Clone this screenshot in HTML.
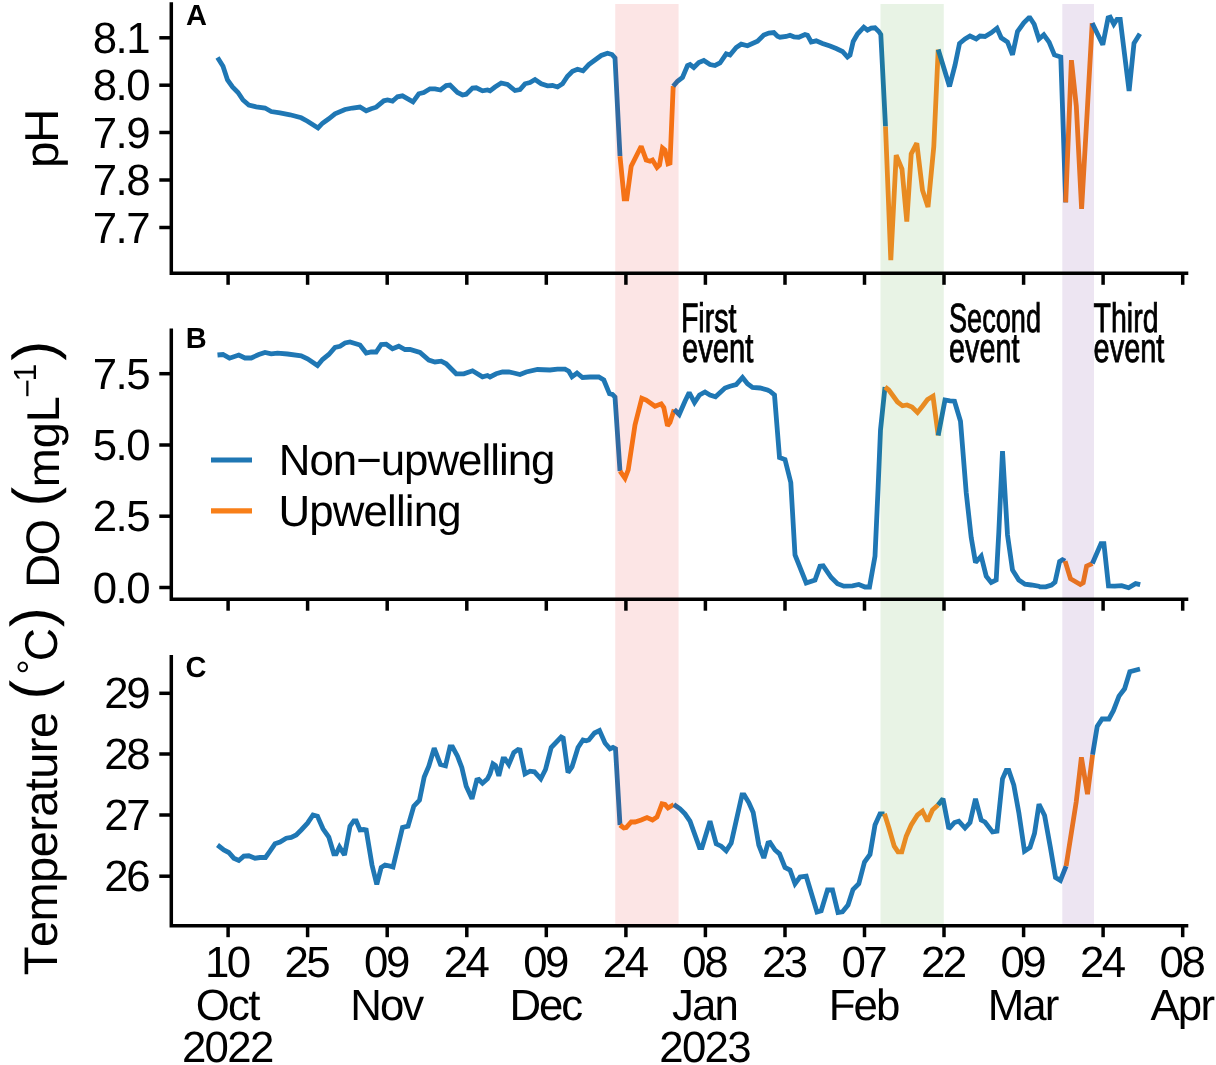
<!DOCTYPE html>
<html><head><meta charset="utf-8"><title>Figure</title><style>html,body{margin:0;padding:0;background:#fff}svg{display:block;will-change:transform}text{text-rendering:geometricPrecision}</style></head><body>
<svg width="1216" height="1065" viewBox="0 0 1216 1065" font-family='"Liberation Sans", Arial, Helvetica, sans-serif' fill="#000" style="font-kerning:none">
<rect width="1216" height="1065" fill="#fff"/>
<path d="M217.5,57.5 L223.0,66.2 L227.5,80.0 L232.5,87.0 L238.0,92.5 L243.0,100.0 L248.8,105.0 L256.2,106.8 L265.0,108.0 L271.2,111.5 L280.0,112.8 L290.0,114.8 L301.2,117.8 L307.5,121.2 L318.0,128.0 L322.5,123.2 L328.8,118.8 L335.0,113.8 L345.0,109.5 L352.5,108.0 L360.0,107.0 L366.2,110.8 L371.2,108.8 L376.2,107.2 L383.8,100.8 L387.5,100.0 L392.5,101.2 L397.5,96.8 L402.5,95.8 L413.0,101.8 L418.8,93.8 L423.8,92.5 L430.0,88.8 L435.0,88.8 L440.5,90.0 L446.2,85.5 L450.0,85.0 L457.5,92.5 L462.5,95.0 L466.2,94.2 L472.5,88.0 L476.2,87.8 L482.5,90.8 L487.5,90.0 L490.0,90.8 L495.0,87.0 L501.2,83.0 L507.5,84.5 L515.0,90.5 L520.0,89.5 L525.0,83.8 L530.0,82.5 L535.0,79.5 L541.2,83.8 L547.5,85.8 L552.5,85.5 L557.5,87.0 L562.5,83.8 L567.5,76.2 L572.5,71.2 L577.5,69.2 L583.0,70.8 L588.8,64.5 L595.0,60.0 L601.2,55.5 L607.5,53.2 L612.0,54.5 L615.0,58.0 L620.0,156.2" fill="none" stroke="#1f77b4" stroke-width="4.8" stroke-linejoin="miter" stroke-miterlimit="2.2" stroke-linecap="butt"/>
<path d="M620.0,156.2 L624.2,198.8 L626.8,198.8 L631.2,166.2 L641.2,146.2 L646.2,160.0 L650.0,161.2 L652.5,160.0 L657.0,167.5 L659.5,165.0 L662.5,148.0 L665.0,150.0 L668.0,163.8 L670.0,163.0 L673.2,86.2" fill="none" stroke="#f87f18" stroke-width="4.8" stroke-linejoin="miter" stroke-miterlimit="2.2" stroke-linecap="butt"/>
<path d="M673.2,86.2 L677.5,81.2 L682.5,77.5 L687.5,65.5 L690.0,64.5 L693.8,67.5 L698.8,62.5 L703.8,60.5 L710.0,64.5 L715.0,65.5 L720.0,63.0 L726.2,53.8 L730.0,55.0 L736.2,47.5 L741.2,44.2 L747.5,45.8 L757.5,41.2 L763.8,35.0 L768.8,33.0 L773.8,32.5 L777.5,36.2 L780.0,37.2 L786.2,36.5 L790.0,35.2 L793.8,36.8 L798.8,37.2 L805.0,34.5 L807.5,35.2 L811.2,42.0 L816.2,40.8 L822.5,43.5 L830.0,46.0 L836.2,48.5 L842.5,51.5 L847.5,57.0 L850.0,55.2 L853.2,41.5 L857.5,34.0 L863.8,27.2 L867.5,30.2 L871.2,28.2 L875.0,27.8 L878.8,31.5 L880.8,34.5 L885.5,126.5" fill="none" stroke="#1f77b4" stroke-width="4.8" stroke-linejoin="miter" stroke-miterlimit="2.2" stroke-linecap="butt"/>
<path d="M885.5,126.5 L890.8,260.2 L896.2,155.2 L902.0,169.0 L906.8,221.5 L911.2,154.0 L916.8,143.2 L922.5,190.2 L928.0,207.0 L933.8,146.5 L938.2,49.5" fill="none" stroke="#ff8c26" stroke-width="4.8" stroke-linejoin="miter" stroke-miterlimit="2.2" stroke-linecap="butt"/>
<path d="M938.2,49.5 L943.8,67.8 L949.5,86.5 L955.0,65.2 L959.5,43.5 L965.0,39.0 L970.0,36.0 L976.2,39.0 L980.0,36.0 L985.0,36.5 L991.2,32.8 L997.0,28.2 L1001.2,37.8 L1007.5,42.0 L1012.5,54.8 L1017.5,31.5 L1023.8,22.8 L1028.8,17.8 L1030.0,17.8 L1034.2,24.2 L1038.9,39.0 L1043.8,34.8 L1049.1,42.2 L1054.4,54.9 L1060.8,57.1 L1065.7,202.4" fill="none" stroke="#1f77b4" stroke-width="4.8" stroke-linejoin="miter" stroke-miterlimit="2.2" stroke-linecap="butt"/>
<path d="M1065.7,202.4 L1071.4,60.2 L1076.3,105.9 L1081.6,208.8 L1087.3,110.1 L1092.2,23.1" fill="none" stroke="#f87f18" stroke-width="4.8" stroke-linejoin="miter" stroke-miterlimit="2.2" stroke-linecap="butt"/>
<path d="M1092.2,23.1 L1097.9,34.8 L1102.8,44.7 L1108.1,17.8 L1110.2,17.2 L1113.8,24.2 L1117.0,19.3 L1120.2,19.3 L1129.1,91.0 L1134.0,43.3 L1139.9,33.7" fill="none" stroke="#1f77b4" stroke-width="4.8" stroke-linejoin="miter" stroke-miterlimit="2.2" stroke-linecap="butt"/>
<path d="M217.5,355.0 L223.0,354.5 L229.5,358.2 L238.8,355.0 L245.0,358.0 L251.2,358.0 L258.8,354.5 L265.0,352.5 L271.2,353.8 L277.5,353.2 L287.5,354.0 L301.2,355.8 L307.5,358.8 L317.5,365.5 L322.5,359.5 L328.8,354.5 L335.0,347.5 L340.0,346.2 L345.0,343.0 L350.0,342.0 L360.0,345.0 L366.2,353.0 L371.2,351.8 L376.2,352.0 L381.2,344.5 L386.2,344.2 L392.5,348.8 L398.8,346.2 L405.0,349.5 L410.0,349.5 L420.0,352.5 L428.8,360.0 L435.0,362.0 L441.2,361.2 L446.2,363.8 L456.2,373.8 L463.8,373.8 L472.5,370.8 L482.5,376.8 L487.5,375.5 L490.0,377.0 L496.2,373.8 L502.5,372.0 L508.8,372.0 L513.8,373.0 L520.0,374.5 L526.2,372.0 L537.5,369.5 L550.0,370.0 L557.5,369.2 L565.0,369.2 L568.8,371.2 L572.0,376.8 L577.0,373.0 L582.5,377.5 L590.0,377.0 L598.8,377.0 L603.8,380.0 L609.5,393.8 L612.5,394.5 L615.0,397.0 L620.0,471.2" fill="none" stroke="#1f77b4" stroke-width="4.8" stroke-linejoin="miter" stroke-miterlimit="2.2" stroke-linecap="butt"/>
<path d="M620.0,471.2 L625.0,478.2 L628.2,470.0 L635.0,425.0 L641.8,398.2 L646.2,400.0 L655.0,406.2 L661.2,403.8 L663.8,407.5 L667.5,425.8 L670.0,422.5 L674.2,409.5" fill="none" stroke="#f87f18" stroke-width="4.8" stroke-linejoin="miter" stroke-miterlimit="2.2" stroke-linecap="butt"/>
<path d="M674.2,409.5 L679.2,414.5 L685.0,401.2 L689.2,392.5 L694.5,402.5 L699.5,395.0 L705.0,392.0 L710.0,395.0 L715.5,396.8 L725.0,388.0 L730.0,386.2 L736.2,384.5 L742.5,377.5 L747.5,383.8 L752.5,387.5 L760.0,388.0 L767.5,390.0 L770.0,391.2 L774.5,395.0 L779.5,457.5 L785.0,459.5 L790.8,482.5 L795.0,555.0 L806.2,583.0 L815.0,580.0 L820.0,566.2 L823.2,565.8 L831.2,577.5 L837.5,583.8 L843.8,586.2 L852.5,585.8 L858.8,584.5 L865.0,587.0 L869.5,587.0 L875.0,556.2 L878.0,490.0 L880.5,430.0 L885.0,387.0" fill="none" stroke="#1f77b4" stroke-width="4.8" stroke-linejoin="miter" stroke-miterlimit="2.2" stroke-linecap="butt"/>
<path d="M885.0,387.0 L888.8,390.0 L897.5,402.0 L902.5,405.8 L907.0,405.0 L912.0,407.0 L917.5,412.5 L922.5,406.2 L927.5,399.5 L933.0,396.2 L938.2,435.5" fill="none" stroke="#ff8c26" stroke-width="4.8" stroke-linejoin="miter" stroke-miterlimit="2.2" stroke-linecap="butt"/>
<path d="M938.2,435.5 L945.0,400.0 L950.0,400.8 L954.5,401.2 L960.5,421.2 L966.2,492.5 L971.2,537.5 L975.5,562.5 L981.2,556.2 L986.2,576.2 L991.2,582.5 L996.2,580.0 L998.8,532.5 L1002.5,451.2 L1007.5,535.0 L1012.5,570.0 L1018.8,580.0 L1025.0,584.2 L1031.2,585.0 L1038.8,586.2 L1040.0,586.8 L1045.8,586.8 L1051.5,585.0 L1055.0,582.2 L1059.6,561.4 L1062.4,559.7 L1065.1,561.1" fill="none" stroke="#1f77b4" stroke-width="4.8" stroke-linejoin="miter" stroke-miterlimit="2.2" stroke-linecap="butt"/>
<path d="M1065.1,561.1 L1070.5,578.7 L1080.3,584.5 L1083.2,582.7 L1086.6,566.1 L1092.4,563.5" fill="none" stroke="#f87f18" stroke-width="4.8" stroke-linejoin="miter" stroke-miterlimit="2.2" stroke-linecap="butt"/>
<path d="M1092.4,563.5 L1101.0,543.6 L1103.9,543.6 L1108.5,585.9 L1114.8,586.2 L1121.7,585.6 L1128.6,587.7 L1135.6,583.6 L1140.2,584.7" fill="none" stroke="#1f77b4" stroke-width="4.8" stroke-linejoin="miter" stroke-miterlimit="2.2" stroke-linecap="butt"/>
<path d="M217.5,845.0 L223.8,850.0 L228.8,852.5 L233.8,858.2 L238.8,860.5 L243.8,856.2 L248.8,855.8 L255.0,858.2 L260.0,857.5 L265.5,857.5 L270.0,851.2 L275.0,843.8 L280.0,842.0 L286.2,838.2 L291.2,837.5 L296.2,835.0 L301.2,830.0 L307.5,823.2 L313.0,815.0 L317.5,816.2 L323.0,828.8 L328.8,837.0 L333.8,853.8 L336.2,853.8 L339.5,847.0 L344.5,855.0 L350.0,826.2 L353.8,820.8 L356.2,820.8 L360.0,830.0 L363.8,829.5 L366.2,830.0 L372.0,865.0 L376.8,884.5 L381.2,867.5 L385.0,865.0 L390.0,866.2 L393.0,867.0 L402.5,827.5 L408.0,826.2 L413.8,806.2 L419.5,800.0 L424.2,777.0 L428.8,766.2 L434.2,748.2 L440.5,764.5 L445.5,765.8 L450.0,747.0 L452.5,747.0 L457.5,756.2 L461.8,767.5 L466.2,786.2 L472.0,798.8 L476.8,780.0 L478.8,779.5 L482.5,783.2 L487.5,778.8 L490.0,773.8 L493.0,763.8 L495.5,765.5 L498.8,775.8 L503.0,758.8 L505.0,758.8 L508.8,764.5 L513.8,752.5 L518.0,749.5 L520.0,750.0 L525.0,773.8 L530.0,771.2 L534.5,771.8 L540.8,778.8 L545.5,769.5 L551.2,747.5 L561.2,737.0 L563.2,738.0 L568.0,772.5 L572.0,767.0 L578.0,747.5 L583.0,740.0 L586.2,740.8 L588.8,740.0 L594.5,733.0 L599.5,730.5 L605.0,743.0 L610.0,748.8 L613.0,747.5 L615.5,748.8 L620.0,825.0" fill="none" stroke="#1f77b4" stroke-width="4.8" stroke-linejoin="miter" stroke-miterlimit="2.2" stroke-linecap="butt"/>
<path d="M620.0,825.0 L623.8,828.0 L626.2,827.5 L631.2,822.0 L635.0,822.0 L641.2,820.0 L647.0,817.5 L652.5,820.0 L657.0,817.0 L662.0,803.8 L665.0,804.5 L668.0,808.0 L673.8,804.5" fill="none" stroke="#f87f18" stroke-width="4.8" stroke-linejoin="miter" stroke-miterlimit="2.2" stroke-linecap="butt"/>
<path d="M673.8,804.5 L680.0,808.8 L685.0,813.8 L690.0,821.2 L699.5,847.5 L702.0,847.5 L710.0,821.2 L716.2,843.8 L721.2,846.2 L726.2,850.8 L731.2,843.0 L742.0,795.0 L744.2,795.0 L748.8,802.5 L753.2,812.5 L758.8,845.0 L763.8,858.0 L768.0,843.0 L770.0,842.5 L775.0,850.0 L779.5,853.8 L785.0,867.5 L790.0,870.0 L795.0,883.8 L800.0,877.0 L806.2,876.2 L817.0,912.0 L821.2,910.8 L827.5,890.0 L832.5,890.0 L838.0,912.5 L842.5,911.8 L848.0,905.0 L853.0,889.5 L858.8,883.8 L864.5,862.0 L870.0,854.5 L875.0,825.0 L880.0,813.8 L884.5,813.8" fill="none" stroke="#1f77b4" stroke-width="4.8" stroke-linejoin="miter" stroke-miterlimit="2.2" stroke-linecap="butt"/>
<path d="M884.5,813.8 L888.8,827.5 L894.2,846.2 L898.0,851.8 L901.8,851.8 L906.2,836.2 L911.2,825.0 L917.5,815.0 L922.5,811.2 L927.5,821.2 L932.5,810.0 L938.0,805.0" fill="none" stroke="#ff8c26" stroke-width="4.8" stroke-linejoin="miter" stroke-miterlimit="2.2" stroke-linecap="butt"/>
<path d="M938.0,805.0 L943.0,798.8 L948.8,828.8 L954.5,822.5 L958.8,821.2 L965.0,828.0 L970.0,822.5 L975.5,798.8 L981.2,820.0 L985.0,822.0 L992.5,832.0 L997.0,831.2 L1002.5,778.8 L1006.2,770.5 L1008.8,770.5 L1013.8,785.0 L1018.8,812.5 L1024.5,851.2 L1030.0,847.5 L1034.5,833.5 L1039.0,804.2 L1044.6,815.5 L1050.3,847.0 L1055.5,877.5 L1060.4,880.4 L1066.1,866.2" fill="none" stroke="#1f77b4" stroke-width="4.8" stroke-linejoin="miter" stroke-miterlimit="2.2" stroke-linecap="butt"/>
<path d="M1066.1,866.2 L1076.2,802.0 L1081.4,757.4 L1087.5,794.1 L1092.6,754.6" fill="none" stroke="#f87f18" stroke-width="4.8" stroke-linejoin="miter" stroke-miterlimit="2.2" stroke-linecap="butt"/>
<path d="M1092.6,754.6 L1097.2,726.5 L1102.1,719.0 L1108.9,719.0 L1113.4,710.7 L1119.0,696.1 L1124.6,688.8 L1129.8,671.7 L1140.0,669.0" fill="none" stroke="#1f77b4" stroke-width="4.8" stroke-linejoin="miter" stroke-miterlimit="2.2" stroke-linecap="butt"/>
<rect x="615.2" y="4" width="63.4" height="921" fill="#e60000" fill-opacity="0.1"/>
<rect x="880.5" y="4" width="63.3" height="921" fill="#1e8c00" fill-opacity="0.1"/>
<rect x="1062.3" y="4" width="31.7" height="921" fill="#4b0082" fill-opacity="0.1"/>
<path d="M171.3,2.3 V273.3 H1188.3" fill="none" stroke="#000" stroke-width="3.5" stroke-linecap="butt" stroke-linejoin="miter"/>
<path d="M159.3,37.8 H171.3" stroke="#000" stroke-width="3.5"/>
<text x="150.5" y="52.8" font-size="43.8" text-anchor="end" textLength="57.7" lengthAdjust="spacing">8.1</text>
<path d="M159.3,85.2 H171.3" stroke="#000" stroke-width="3.5"/>
<text x="150.5" y="100.2" font-size="43.8" text-anchor="end" textLength="57.7" lengthAdjust="spacing">8.0</text>
<path d="M159.3,132.5 H171.3" stroke="#000" stroke-width="3.5"/>
<text x="150.5" y="147.5" font-size="43.8" text-anchor="end" textLength="57.7" lengthAdjust="spacing">7.9</text>
<path d="M159.3,180 H171.3" stroke="#000" stroke-width="3.5"/>
<text x="150.5" y="195.0" font-size="43.8" text-anchor="end" textLength="57.7" lengthAdjust="spacing">7.8</text>
<path d="M159.3,227.5 H171.3" stroke="#000" stroke-width="3.5"/>
<text x="150.5" y="242.5" font-size="43.8" text-anchor="end" textLength="57.7" lengthAdjust="spacing">7.7</text>
<path d="M228.1,273.3 V284.8" stroke="#000" stroke-width="3.5"/>
<path d="M307.6,273.3 V284.8" stroke="#000" stroke-width="3.5"/>
<path d="M387.2,273.3 V284.8" stroke="#000" stroke-width="3.5"/>
<path d="M466.8,273.3 V284.8" stroke="#000" stroke-width="3.5"/>
<path d="M546.3,273.3 V284.8" stroke="#000" stroke-width="3.5"/>
<path d="M625.9,273.3 V284.8" stroke="#000" stroke-width="3.5"/>
<path d="M705.4,273.3 V284.8" stroke="#000" stroke-width="3.5"/>
<path d="M785.0,273.3 V284.8" stroke="#000" stroke-width="3.5"/>
<path d="M864.5,273.3 V284.8" stroke="#000" stroke-width="3.5"/>
<path d="M944.0,273.3 V284.8" stroke="#000" stroke-width="3.5"/>
<path d="M1023.6,273.3 V284.8" stroke="#000" stroke-width="3.5"/>
<path d="M1103.1,273.3 V284.8" stroke="#000" stroke-width="3.5"/>
<path d="M1182.7,273.3 V284.8" stroke="#000" stroke-width="3.5"/>
<path d="M171.3,328.4 V599.2 H1188.3" fill="none" stroke="#000" stroke-width="3.5" stroke-linecap="butt" stroke-linejoin="miter"/>
<path d="M159.3,373.7 H171.3" stroke="#000" stroke-width="3.5"/>
<text x="150.5" y="388.7" font-size="43.8" text-anchor="end" textLength="57.7" lengthAdjust="spacing">7.5</text>
<path d="M159.3,445 H171.3" stroke="#000" stroke-width="3.5"/>
<text x="150.5" y="460.0" font-size="43.8" text-anchor="end" textLength="57.7" lengthAdjust="spacing">5.0</text>
<path d="M159.3,516.2 H171.3" stroke="#000" stroke-width="3.5"/>
<text x="150.5" y="531.2" font-size="43.8" text-anchor="end" textLength="57.7" lengthAdjust="spacing">2.5</text>
<path d="M159.3,587.5 H171.3" stroke="#000" stroke-width="3.5"/>
<text x="150.5" y="602.5" font-size="43.8" text-anchor="end" textLength="57.7" lengthAdjust="spacing">0.0</text>
<path d="M228.1,599.2 V610.7" stroke="#000" stroke-width="3.5"/>
<path d="M307.6,599.2 V610.7" stroke="#000" stroke-width="3.5"/>
<path d="M387.2,599.2 V610.7" stroke="#000" stroke-width="3.5"/>
<path d="M466.8,599.2 V610.7" stroke="#000" stroke-width="3.5"/>
<path d="M546.3,599.2 V610.7" stroke="#000" stroke-width="3.5"/>
<path d="M625.9,599.2 V610.7" stroke="#000" stroke-width="3.5"/>
<path d="M705.4,599.2 V610.7" stroke="#000" stroke-width="3.5"/>
<path d="M785.0,599.2 V610.7" stroke="#000" stroke-width="3.5"/>
<path d="M864.5,599.2 V610.7" stroke="#000" stroke-width="3.5"/>
<path d="M944.0,599.2 V610.7" stroke="#000" stroke-width="3.5"/>
<path d="M1023.6,599.2 V610.7" stroke="#000" stroke-width="3.5"/>
<path d="M1103.1,599.2 V610.7" stroke="#000" stroke-width="3.5"/>
<path d="M1182.7,599.2 V610.7" stroke="#000" stroke-width="3.5"/>
<path d="M171.3,655.1 V925.7 H1188.3" fill="none" stroke="#000" stroke-width="3.5" stroke-linecap="butt" stroke-linejoin="miter"/>
<path d="M159.3,693.3 H171.3" stroke="#000" stroke-width="3.5"/>
<text x="150.5" y="708.3" font-size="43.8" text-anchor="end" textLength="46.2" lengthAdjust="spacing">29</text>
<path d="M159.3,754 H171.3" stroke="#000" stroke-width="3.5"/>
<text x="150.5" y="769.0" font-size="43.8" text-anchor="end" textLength="46.2" lengthAdjust="spacing">28</text>
<path d="M159.3,815 H171.3" stroke="#000" stroke-width="3.5"/>
<text x="150.5" y="830.0" font-size="43.8" text-anchor="end" textLength="46.2" lengthAdjust="spacing">27</text>
<path d="M159.3,876.2 H171.3" stroke="#000" stroke-width="3.5"/>
<text x="150.5" y="891.2" font-size="43.8" text-anchor="end" textLength="46.2" lengthAdjust="spacing">26</text>
<path d="M228.1,925.7 V937.2" stroke="#000" stroke-width="3.5"/>
<path d="M307.6,925.7 V937.2" stroke="#000" stroke-width="3.5"/>
<path d="M387.2,925.7 V937.2" stroke="#000" stroke-width="3.5"/>
<path d="M466.8,925.7 V937.2" stroke="#000" stroke-width="3.5"/>
<path d="M546.3,925.7 V937.2" stroke="#000" stroke-width="3.5"/>
<path d="M625.9,925.7 V937.2" stroke="#000" stroke-width="3.5"/>
<path d="M705.4,925.7 V937.2" stroke="#000" stroke-width="3.5"/>
<path d="M785.0,925.7 V937.2" stroke="#000" stroke-width="3.5"/>
<path d="M864.5,925.7 V937.2" stroke="#000" stroke-width="3.5"/>
<path d="M944.0,925.7 V937.2" stroke="#000" stroke-width="3.5"/>
<path d="M1023.6,925.7 V937.2" stroke="#000" stroke-width="3.5"/>
<path d="M1103.1,925.7 V937.2" stroke="#000" stroke-width="3.5"/>
<path d="M1182.7,925.7 V937.2" stroke="#000" stroke-width="3.5"/>
<text x="228.1" y="976.6" font-size="43.8" text-anchor="middle" textLength="46.2" lengthAdjust="spacing">10</text>
<text x="228.1" y="1020.2" font-size="43.8" text-anchor="middle" textLength="64.6" lengthAdjust="spacing">Oct</text>
<text x="228.1" y="1061.7" font-size="43.8" text-anchor="middle" textLength="92.3" lengthAdjust="spacing">2022</text>
<text x="307.6" y="976.6" font-size="43.8" text-anchor="middle" textLength="46.2" lengthAdjust="spacing">25</text>
<text x="387.2" y="976.6" font-size="43.8" text-anchor="middle" textLength="46.2" lengthAdjust="spacing">09</text>
<text x="387.2" y="1020.2" font-size="43.8" text-anchor="middle" textLength="73.8" lengthAdjust="spacing">Nov</text>
<text x="466.8" y="976.6" font-size="43.8" text-anchor="middle" textLength="46.2" lengthAdjust="spacing">24</text>
<text x="546.3" y="976.6" font-size="43.8" text-anchor="middle" textLength="46.2" lengthAdjust="spacing">09</text>
<text x="546.3" y="1020.2" font-size="43.8" text-anchor="middle" textLength="73.8" lengthAdjust="spacing">Dec</text>
<text x="625.9" y="976.6" font-size="43.8" text-anchor="middle" textLength="46.2" lengthAdjust="spacing">24</text>
<text x="705.4" y="976.6" font-size="43.8" text-anchor="middle" textLength="46.2" lengthAdjust="spacing">08</text>
<text x="705.4" y="1020.2" font-size="43.8" text-anchor="middle" textLength="66.9" lengthAdjust="spacing">Jan</text>
<text x="705.4" y="1061.7" font-size="43.8" text-anchor="middle" textLength="92.3" lengthAdjust="spacing">2023</text>
<text x="785.0" y="976.6" font-size="43.8" text-anchor="middle" textLength="46.2" lengthAdjust="spacing">23</text>
<text x="864.5" y="976.6" font-size="43.8" text-anchor="middle" textLength="46.2" lengthAdjust="spacing">07</text>
<text x="864.5" y="1020.2" font-size="43.8" text-anchor="middle" textLength="71.5" lengthAdjust="spacing">Feb</text>
<text x="944.0" y="976.6" font-size="43.8" text-anchor="middle" textLength="46.2" lengthAdjust="spacing">22</text>
<text x="1023.6" y="976.6" font-size="43.8" text-anchor="middle" textLength="46.2" lengthAdjust="spacing">09</text>
<text x="1023.6" y="1020.2" font-size="43.8" text-anchor="middle" textLength="71.5" lengthAdjust="spacing">Mar</text>
<text x="1103.1" y="976.6" font-size="43.8" text-anchor="middle" textLength="46.2" lengthAdjust="spacing">24</text>
<text x="1182.7" y="976.6" font-size="43.8" text-anchor="middle" textLength="46.2" lengthAdjust="spacing">08</text>
<text x="1182.7" y="1020.2" font-size="43.8" text-anchor="middle" textLength="64.6" lengthAdjust="spacing">Apr</text>
<text x="185.9" y="24.9" font-size="29" font-weight="bold">A</text>
<text x="185.7" y="347.7" font-size="29" font-weight="bold">B</text>
<text x="185.5" y="677.4" font-size="29" font-weight="bold">C</text>
<g transform="rotate(-90)">
<text x="-168.0" y="58" font-size="47.6" textLength="59.3" lengthAdjust="spacing">pH</text>
<text x="-587.8" y="58.7" font-size="47.1" textLength="69.0" lengthAdjust="spacing">DO</text>
<text x="-506.5" y="54.2" font-size="59">(</text>
<text x="-487.3" y="58.7" font-size="46" textLength="91.1" lengthAdjust="spacingAndGlyphs">mgL</text>
<text x="-397.8" y="38.3" font-size="32">−</text>
<text x="-381.6" y="36.2" font-size="32">1</text>
<text x="-360.6" y="54.2" font-size="59">)</text>
<text x="-975.2" y="56.7" font-size="47.1" textLength="263.3" lengthAdjust="spacing">Temperature</text>
<text x="-699.5" y="51.9" font-size="59">(</text>
<text x="-674.6" y="44.2" font-size="38">°</text>
<text x="-661.3" y="56.7" font-size="46">C</text>
<text x="-626.9" y="51.9" font-size="59">)</text>
</g>
<path d="M211,460 H252" stroke="#1f77b4" stroke-width="5.2"/>
<path d="M211,510.8 H252" stroke="#f87f18" stroke-width="5.2"/>
<text x="278.8" y="474.8" font-size="43.8" text-anchor="start" textLength="276.6" lengthAdjust="spacing">Non−upwelling</text>
<text x="278.6" y="525.6" font-size="43.8" text-anchor="start" textLength="182.9" lengthAdjust="spacing">Upwelling</text>
<text x="680.9" y="332" font-size="41" textLength="55.6" lengthAdjust="spacingAndGlyphs" stroke="#000" stroke-width="0.9">First</text>
<text x="682.0" y="361.8" font-size="41" textLength="71.5" lengthAdjust="spacingAndGlyphs" stroke="#000" stroke-width="0.9">event</text>
<text x="949.0" y="332" font-size="41" textLength="92.0" lengthAdjust="spacingAndGlyphs" stroke="#000" stroke-width="0.9">Second</text>
<text x="949.0" y="361.8" font-size="41" textLength="70.4" lengthAdjust="spacingAndGlyphs" stroke="#000" stroke-width="0.9">event</text>
<text x="1093.6" y="332" font-size="41" textLength="64.9" lengthAdjust="spacingAndGlyphs" stroke="#000" stroke-width="0.9">Third</text>
<text x="1093.6" y="361.8" font-size="41" textLength="70.8" lengthAdjust="spacingAndGlyphs" stroke="#000" stroke-width="0.9">event</text>
</svg>
</body></html>
